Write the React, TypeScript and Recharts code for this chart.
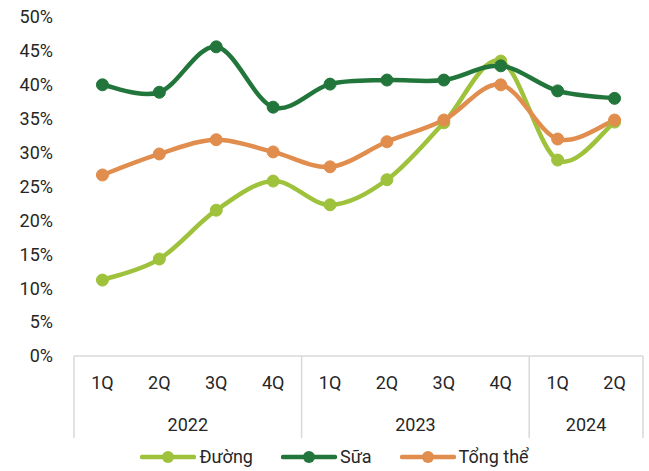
import { CartesianGrid, Line, LineChart, XAxis, YAxis } from 'recharts'

const quarters = ['1Q', '2Q', '3Q', '4Q', '1Q', '2Q', '3Q', '4Q', '1Q', '2Q']
const yearGroups = [
  { year: '2022', count: 4 },
  { year: '2023', count: 4 },
  { year: '2024', count: 2 },
]
const duong = [11.2, 14.3, 21.5, 25.8, 22.3, 26.0, 34.4, 43.5, 28.9, 34.5]
const sua = [40.0, 38.9, 45.6, 36.7, 40.1, 40.7, 40.7, 42.8, 39.1, 38.0]
const tongThe = [26.7, 29.8, 31.9, 30.1, 27.9, 31.6, 34.8, 40.0, 32.0, 34.8]
const yTicks = [0, 5, 10, 15, 20, 25, 30, 35, 40, 45, 50]

const series = [
  { key: 'duong', name: 'Đường', color: '#9fc23c' },
  { key: 'sua', name: 'Sữa', color: '#22763b' },
  { key: 'tongThe', name: 'Tổng thể', color: '#e08d4e' },
]

const data = quarters.map((q, i) => ({
  id: i,
  q,
  duong: duong[i],
  sua: sua[i],
  tongThe: tongThe[i],
}))

const WIDTH = 649
const HEIGHT = 471
const Y_AXIS_W = 74
const MARGIN = { top: 17, right: 6, bottom: 0, left: 0 }
const PLOT_W = WIDTH - MARGIN.left - MARGIN.right - Y_AXIS_W
const BAND = PLOT_W / quarters.length
const FONT = 'Roboto, sans-serif'
const TEXT = '#262626'
const RULE = '#d9d9d9'

// smooth line through every point, same shape as a spreadsheet "smoothed line"
function smoothCurve(context: any) {
  let pts: number[][] = []
  return {
    areaStart() {},
    areaEnd() {},
    lineStart() {
      pts = []
    },
    point(x: number, y: number) {
      pts.push([+x, +y])
    },
    lineEnd() {
      if (!pts.length) return
      context.moveTo(pts[0][0], pts[0][1])
      for (let i = 0; i < pts.length - 1; i++) {
        const p0 = pts[i - 1] ?? pts[i]
        const p1 = pts[i]
        const p2 = pts[i + 1]
        const p3 = pts[i + 2] ?? p2
        context.bezierCurveTo(
          p1[0] + (p2[0] - p0[0]) / 6,
          p1[1] + (p2[1] - p0[1]) / 6,
          p2[0] - (p3[0] - p1[0]) / 6,
          p2[1] - (p3[1] - p1[1]) / 6,
          p2[0],
          p2[1],
        )
      }
    },
  }
}

// group start indexes for the two-level category axis
const groupStarts: number[] = []
yearGroups.reduce((start, g) => {
  groupStarts.push(start)
  return start + g.count
}, 0)

function QuarterTick(props: any) {
  const { x, y, payload } = props
  const i = payload.index as number
  const g = groupStarts.indexOf(i)
  return (
    <g>
      <text x={x} y={y + 33} textAnchor="middle" fill={TEXT} fontSize={18} fontFamily={FONT}>
        {quarters[i]}
      </text>
      {g >= 0 && (
        <>
          <line x1={x - BAND / 2} x2={x - BAND / 2} y1={y} y2={y + 82} stroke={RULE} strokeWidth={1.5} />
          <text
            x={x - BAND / 2 + (yearGroups[g].count * BAND) / 2}
            y={y + 75}
            textAnchor="middle"
            fill={TEXT}
            fontSize={18}
            fontFamily={FONT}
          >
            {yearGroups[g].year}
          </text>
        </>
      )}
      {i === quarters.length - 1 && (
        <line x1={x + BAND / 2} x2={x + BAND / 2} y1={y} y2={y + 82} stroke={RULE} strokeWidth={1.5} />
      )}
    </g>
  )
}

function LegendRow() {
  return (
    <div
      style={{
        position: 'absolute',
        left: 0,
        top: 446,
        width: WIDTH,
        display: 'flex',
        justifyContent: 'center',
        gap: 28,
        paddingLeft: 20,
        boxSizing: 'border-box',
        fontFamily: FONT,
        fontSize: 18,
        color: TEXT,
        lineHeight: '22px',
      }}
    >
      {series.map((s) => (
        <div key={s.key} style={{ display: 'flex', alignItems: 'center', gap: 3 }}>
          <svg width={56} height={14}>
            <line x1={2} x2={54} y1={7} y2={7} stroke={s.color} strokeWidth={4.5} strokeLinecap="round" />
            <circle cx={28} cy={7} r={6} fill={s.color} />
          </svg>
          <span>{s.name}</span>
        </div>
      ))}
    </div>
  )
}

export default function App() {
  return (
    <div style={{ position: 'absolute', left: 0, top: 0, width: WIDTH, height: HEIGHT, background: '#fff' }}>
      <LineChart width={WIDTH} height={HEIGHT} data={data} margin={MARGIN}>
        <CartesianGrid stroke="none" />
        <XAxis
          dataKey="id"
          scale="band"
          height={HEIGHT - 356}
          axisLine={{ stroke: RULE, strokeWidth: 1.5 }}
          tickLine={false}
          tickSize={0}
          tickMargin={0}
          interval={0}
          tick={<QuarterTick />}
        />
        <YAxis
          domain={[0, 50]}
          ticks={yTicks}
          width={Y_AXIS_W}
          axisLine={false}
          tickLine={false}
          tickMargin={15}
          tickFormatter={(v: number) => `${v}%`}
          tick={{ fill: TEXT, fontSize: 18, fontFamily: FONT }}
        />
        {series.map((s) => (
          <Line
            key={s.key}
            dataKey={s.key}
            name={s.name}
            type={smoothCurve as any}
            stroke={s.color}
            strokeWidth={4.5}
            dot={{ r: 6, fill: s.color, stroke: s.color, strokeWidth: 1 }}
            activeDot={false}
            isAnimationActive={false}
          />
        ))}
      </LineChart>
      <LegendRow />
    </div>
  )
}
